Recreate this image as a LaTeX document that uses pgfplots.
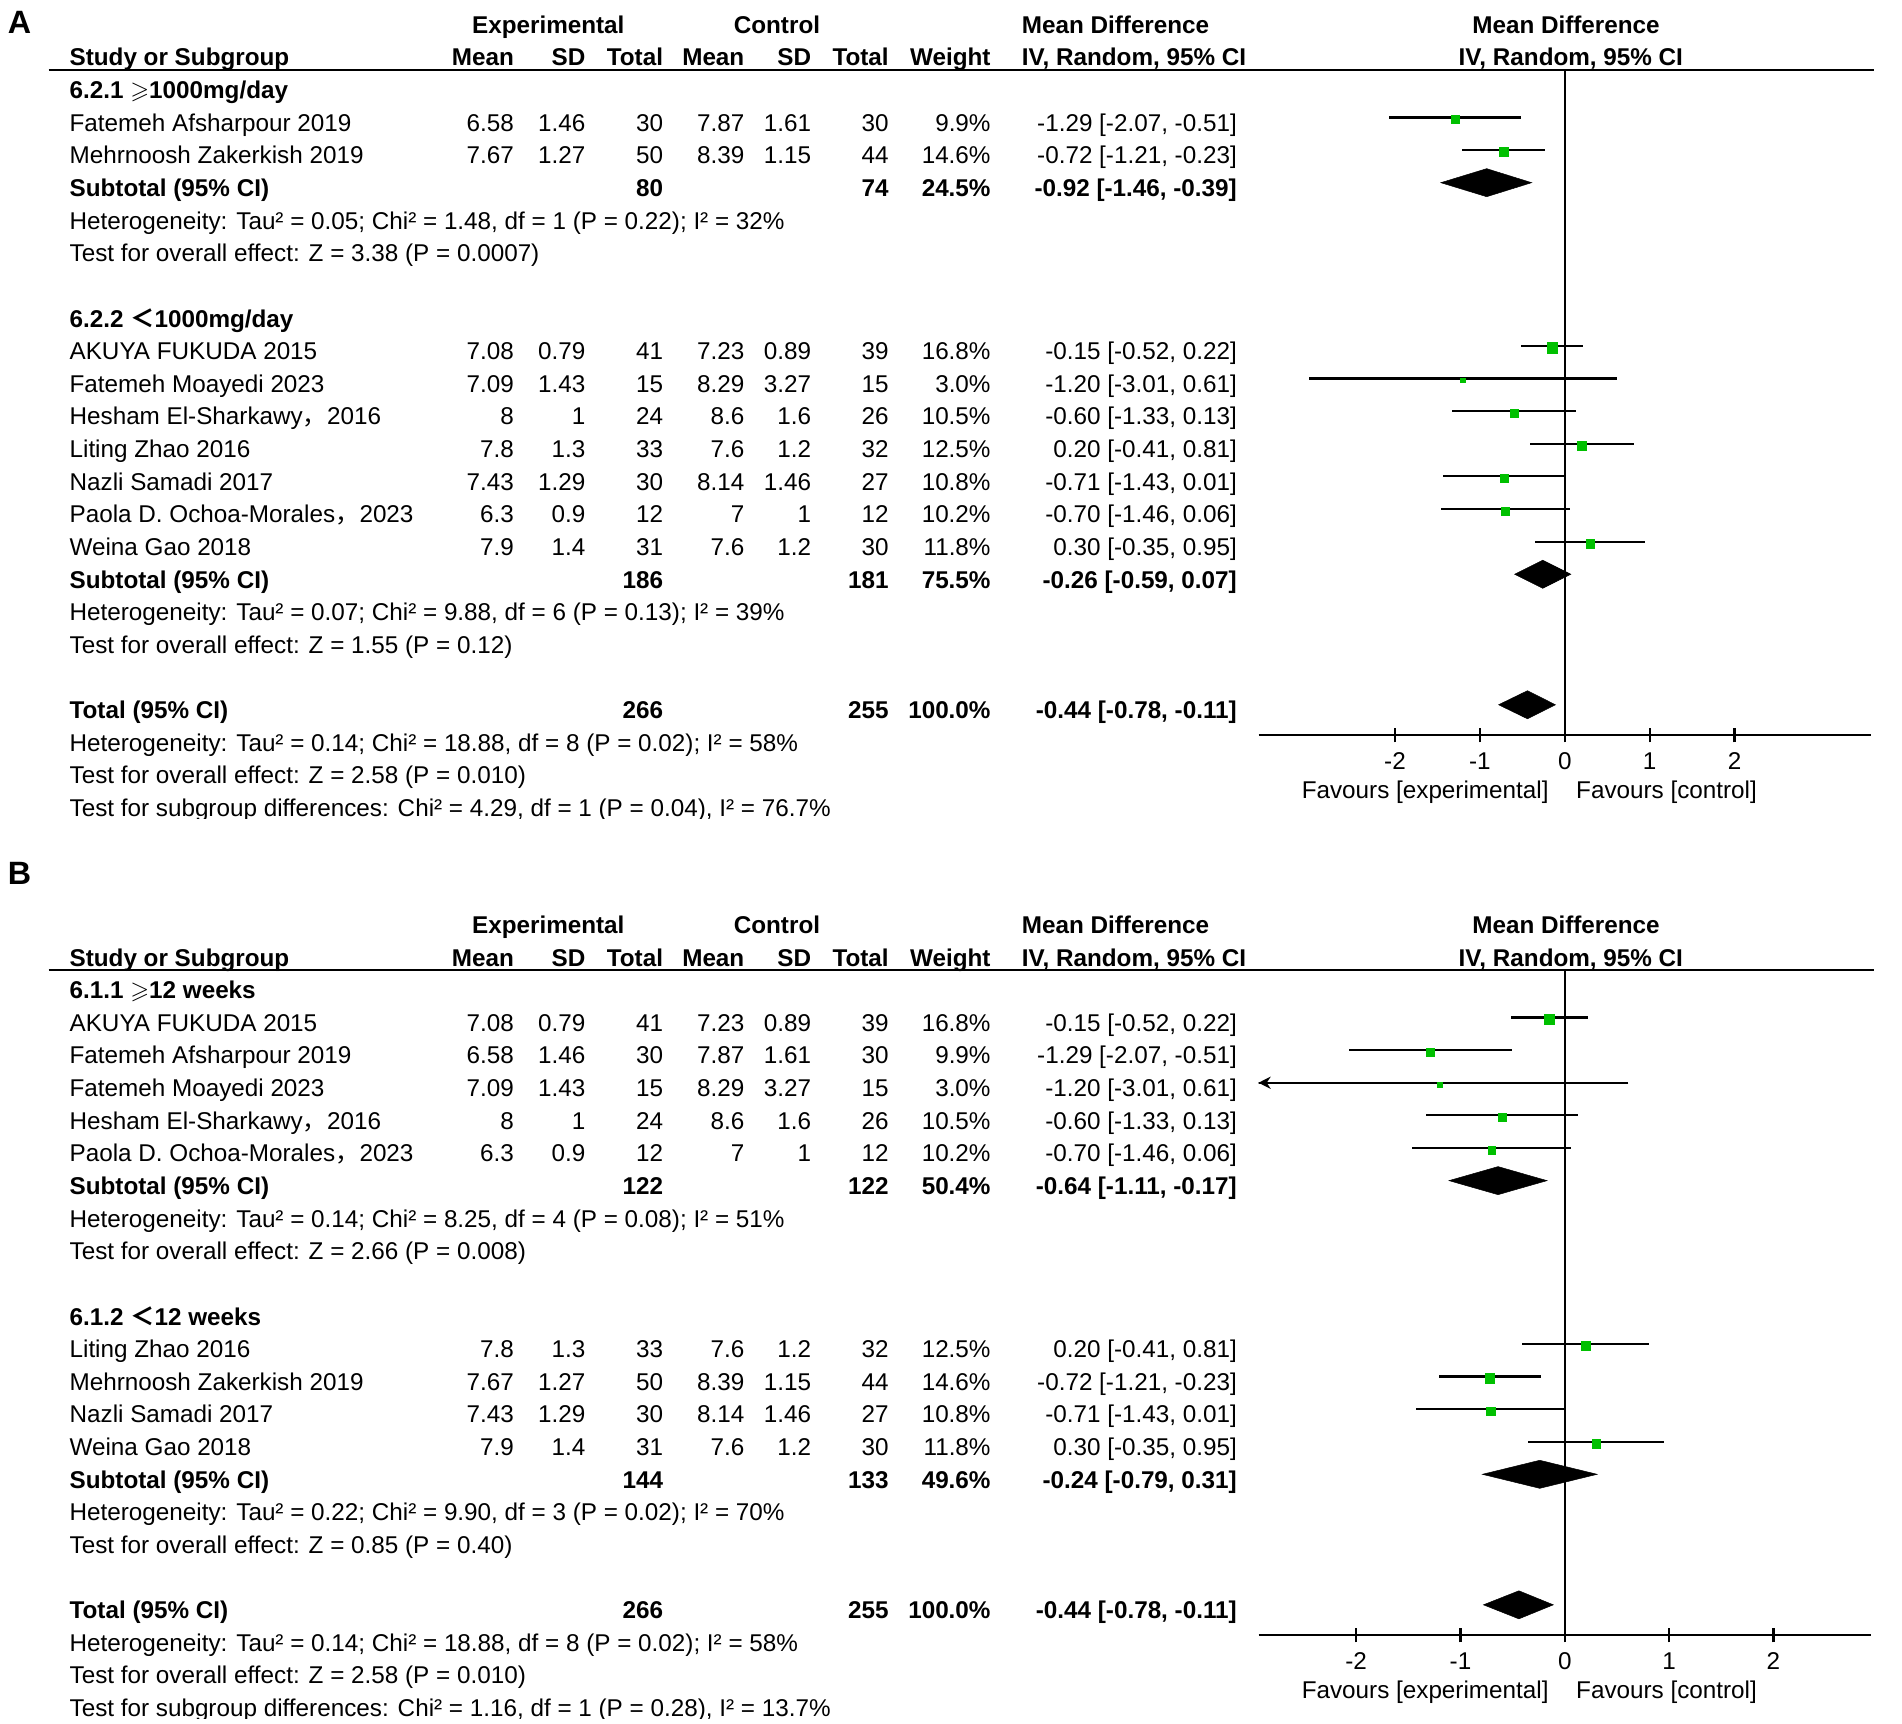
\documentclass[border=0pt]{standalone}
\usepackage{amssymb}
\usepackage{pgfplots}
\pgfplotsset{compat=1.18}
\usepackage{pgfplotstable}
\usepackage{fontspec}
\setmainfont{Liberation Sans}
\newfontfamily\cjk{Noto Sans CJK SC}
\usetikzlibrary{arrows.meta}
\definecolor{mdgreen}{RGB}{0,192,0}

% study rows: y = -row, md, lo, hi, weight, ms = half side of the box (pt)
\pgfplotstableread{
y md lo hi w ms
-3 -1.29 -2.07 -0.51 9.9 1.6
-4 -0.72 -1.21 -0.23 14.6 1.95
-10 -0.15 -0.52 0.22 16.8 2.1
-11 -1.20 -3.01 0.61 3.0 0.95
-12 -0.60 -1.33 0.13 10.5 1.65
-13 0.20 -0.41 0.81 12.5 1.8
-14 -0.71 -1.43 0.01 10.8 1.67
-15 -0.70 -1.46 0.06 10.2 1.63
-16 0.30 -0.35 0.95 11.8 1.75
}\studiesA

\pgfplotstableread{
y md lo hi w ms
-3 -0.15 -0.52 0.22 16.8 2.1
-4 -1.29 -2.07 -0.51 9.9 1.6
-5 -1.20 -3.01 0.61 3.0 0.95
-6 -0.60 -1.33 0.13 10.5 1.65
-7 -0.70 -1.46 0.06 10.2 1.63
-13 0.20 -0.41 0.81 12.5 1.8
-14 -0.72 -1.21 -0.23 14.6 1.95
-15 -0.71 -1.43 0.01 10.8 1.67
-16 0.30 -0.35 0.95 11.8 1.75
}\studiesB

\newcommand{\tl}[3]{\node[anchor=base west,inner sep=0pt] at (#1,{\off+27.5+26.9*#2}) {#3};}
\newcommand{\tr}[3]{\node[anchor=base east,inner sep=0pt] at (#1,{\off+27.5+26.9*#2}) {#3};}
\newcommand{\tc}[3]{\node[anchor=base,inner sep=0pt] at (#1,{\off+27.5+26.9*#2}) {#3};}
\newcommand{\st}[9]{%
  \tl{57}{#1}{#2}\tr{424}{#1}{#3}\tr{483}{#1}{#4}\tr{547}{#1}{#5}%
  \tr{614}{#1}{#6}\tr{669}{#1}{#7}\tr{733}{#1}{#8}\tr{817}{#1}{#9}}
\newcommand{\ci}[2]{\tr{1020}{#1}{#2}}
\newcommand{\header}{%
  \tc{452}{0}{\bfseries Experimental}
  \tc{640.5}{0}{\bfseries Control}
  \tl{842}{0}{\bfseries Mean Difference}
  \tc{1291}{0}{\bfseries Mean Difference}
  \tl{57}{1}{\bfseries Study or Subgroup}
  \tr{424}{1}{\bfseries Mean}\tr{483}{1}{\bfseries SD}\tr{547}{1}{\bfseries Total}
  \tr{614}{1}{\bfseries Mean}\tr{669}{1}{\bfseries SD}\tr{733}{1}{\bfseries Total}
  \tr{817}{1}{\bfseries Weight}
  \tl{842}{1}{\bfseries IV, Random, 95\% CI}
  \tc{1295}{1}{\bfseries IV, Random, 95\% CI}
  \draw[line width=1pt] (40,\off+57.5) -- (1545,\off+57.5);
  \node[anchor=base east,inner sep=0pt] at (1277,\off+658) {Favours [experimental]};
  \node[anchor=base west,inner sep=0pt] at (1299,\off+658) {Favours [control]};
}

\pgfplotsset{forest/.style={
  scale only axis, width=252.5pt, height=274.2pt,
  ymin=-21.93, ymax=-1.543,
  axis x line*=bottom, axis y line=none,
  x axis line style={line width=1pt,-},
  xtick={-2,-1,0,1,2}, xticklabels={-2,-1,0,1,2},
  tick align=center, major tick length=6pt,
  tick style={line width=1pt,black},
  xticklabel style={anchor=base,yshift=-11pt,font=\fontsize{10}{12}\selectfont},
}}

\begin{document}
\begin{tikzpicture}[x=0.5pt,y=-0.5pt,font=\fontsize{10}{12}\selectfont]
\path[use as bounding box] (0,0) rectangle (1568,1421);

%================ Panel A =================
\def\off{0}
\node[anchor=base west,inner sep=0pt,font=\fontsize{13.3}{16}\selectfont\bfseries] at (6,28) {A};
\header
\tl{57}{2}{\bfseries 6.2.1 $\geqslant$1000mg/day}
\st{3}{Fatemeh Afsharpour 2019}{6.58}{1.46}{30}{7.87}{1.61}{30}{9.9\%}\ci{3}{-1.29 [-2.07, -0.51]}
\st{4}{Mehrnoosh Zakerkish 2019}{7.67}{1.27}{50}{8.39}{1.15}{44}{14.6\%}\ci{4}{-0.72 [-1.21, -0.23]}
\tl{57}{5}{\bfseries Subtotal (95\% CI)}\tr{547}{5}{\bfseries 80}\tr{733}{5}{\bfseries 74}\tr{817}{5}{\bfseries 24.5\%}\ci{5}{\bfseries -0.92 [-1.46, -0.39]}
\tl{57}{6}{Heterogeneity: Tau² = 0.05; Chi² = 1.48, df = 1 (P = 0.22); I² = 32\%}
\tl{57}{7}{Test for overall effect: Z = 3.38 (P = 0.0007)}
\tl{57}{9}{\bfseries 6.2.2 {\cjk ＜}1000mg/day}
\st{10}{AKUYA FUKUDA 2015}{7.08}{0.79}{41}{7.23}{0.89}{39}{16.8\%}\ci{10}{-0.15 [-0.52, 0.22]}
\st{11}{Fatemeh Moayedi 2023}{7.09}{1.43}{15}{8.29}{3.27}{15}{3.0\%}\ci{11}{-1.20 [-3.01, 0.61]}
\st{12}{Hesham El-Sharkawy{\cjk ，}2016}{8}{1}{24}{8.6}{1.6}{26}{10.5\%}\ci{12}{-0.60 [-1.33, 0.13]}
\st{13}{Liting Zhao 2016}{7.8}{1.3}{33}{7.6}{1.2}{32}{12.5\%}\ci{13}{0.20 [-0.41, 0.81]}
\st{14}{Nazli Samadi 2017}{7.43}{1.29}{30}{8.14}{1.46}{27}{10.8\%}\ci{14}{-0.71 [-1.43, 0.01]}
\st{15}{Paola D. Ochoa-Morales{\cjk ，}2023}{6.3}{0.9}{12}{7}{1}{12}{10.2\%}\ci{15}{-0.70 [-1.46, 0.06]}
\st{16}{Weina Gao 2018}{7.9}{1.4}{31}{7.6}{1.2}{30}{11.8\%}\ci{16}{0.30 [-0.35, 0.95]}
\tl{57}{17}{\bfseries Subtotal (95\% CI)}\tr{547}{17}{\bfseries 186}\tr{733}{17}{\bfseries 181}\tr{817}{17}{\bfseries 75.5\%}\ci{17}{\bfseries -0.26 [-0.59, 0.07]}
\tl{57}{18}{Heterogeneity: Tau² = 0.07; Chi² = 9.88, df = 6 (P = 0.13); I² = 39\%}
\tl{57}{19}{Test for overall effect: Z = 1.55 (P = 0.12)}
\tl{57}{21}{\bfseries Total (95\% CI)}\tr{547}{21}{\bfseries 266}\tr{733}{21}{\bfseries 255}\tr{817}{21}{\bfseries 100.0\%}\ci{21}{\bfseries -0.44 [-0.78, -0.11]}
\tl{57}{22}{Heterogeneity: Tau² = 0.14; Chi² = 18.88, df = 8 (P = 0.02); I² = 58\%}
\tl{57}{23}{Test for overall effect: Z = 2.58 (P = 0.010)}
\begin{scope}
\clip (0,0) rectangle (1568,675);
\tl{57}{24}{Test for subgroup differences: Chi² = 4.29, df = 1 (P = 0.04), I² = 76.7\%}
\end{scope}

\begin{axis}[forest, at={(518.75pt,-303pt)}, anchor=south west,
  xmin=-3.6071, xmax=3.6071]
\addplot[black, line width=0.8pt] coordinates {(0,-1.543) (0,-21.93)};
\addplot[draw=none, mark=none, forget plot, error bars/.cd, x dir=both, x explicit, error mark=none,
  error bar style={draw=black,line width=0.9pt}]
  table[x=md, y=y, x error plus expr=\thisrow{hi}-\thisrow{md}, x error minus expr=\thisrow{md}-\thisrow{lo}] {\studiesA};
\addplot[scatter, only marks, mark=square*,
  scatter/use mapped color={draw=mdgreen,fill=mdgreen},
  mark options={line width=0.2pt},
  visualization depends on={\thisrow{ms} \as \msz},
  scatter/@pre marker code/.append style={/tikz/mark size=\msz}]
  table[x=md, y expr=\thisrow{y}-0.06] {\studiesA};
\addplot[fill=black, draw=black, line width=0.2pt] coordinates {(-1.46,-5) (-0.92,-4.57) (-0.39,-5) (-0.92,-5.43)} -- cycle;
\addplot[fill=black, draw=black, line width=0.2pt] coordinates {(-0.59,-17) (-0.26,-16.57) (0.07,-17) (-0.26,-17.43)} -- cycle;
\addplot[fill=black, draw=black, line width=0.2pt] coordinates {(-0.78,-21) (-0.44,-20.57) (-0.11,-21) (-0.44,-21.43)} -- cycle;
\end{axis}

%================ Panel B =================
\def\off{742}
\node[anchor=base west,inner sep=0pt,font=\fontsize{13.3}{16}\selectfont\bfseries] at (6,729) {B};
\header
\tl{57}{2}{\bfseries 6.1.1 $\geqslant$12 weeks}
\st{3}{AKUYA FUKUDA 2015}{7.08}{0.79}{41}{7.23}{0.89}{39}{16.8\%}\ci{3}{-0.15 [-0.52, 0.22]}
\st{4}{Fatemeh Afsharpour 2019}{6.58}{1.46}{30}{7.87}{1.61}{30}{9.9\%}\ci{4}{-1.29 [-2.07, -0.51]}
\st{5}{Fatemeh Moayedi 2023}{7.09}{1.43}{15}{8.29}{3.27}{15}{3.0\%}\ci{5}{-1.20 [-3.01, 0.61]}
\st{6}{Hesham El-Sharkawy{\cjk ，}2016}{8}{1}{24}{8.6}{1.6}{26}{10.5\%}\ci{6}{-0.60 [-1.33, 0.13]}
\st{7}{Paola D. Ochoa-Morales{\cjk ，}2023}{6.3}{0.9}{12}{7}{1}{12}{10.2\%}\ci{7}{-0.70 [-1.46, 0.06]}
\tl{57}{8}{\bfseries Subtotal (95\% CI)}\tr{547}{8}{\bfseries 122}\tr{733}{8}{\bfseries 122}\tr{817}{8}{\bfseries 50.4\%}\ci{8}{\bfseries -0.64 [-1.11, -0.17]}
\tl{57}{9}{Heterogeneity: Tau² = 0.14; Chi² = 8.25, df = 4 (P = 0.08); I² = 51\%}
\tl{57}{10}{Test for overall effect: Z = 2.66 (P = 0.008)}
\tl{57}{12}{\bfseries 6.1.2 {\cjk ＜}12 weeks}
\st{13}{Liting Zhao 2016}{7.8}{1.3}{33}{7.6}{1.2}{32}{12.5\%}\ci{13}{0.20 [-0.41, 0.81]}
\st{14}{Mehrnoosh Zakerkish 2019}{7.67}{1.27}{50}{8.39}{1.15}{44}{14.6\%}\ci{14}{-0.72 [-1.21, -0.23]}
\st{15}{Nazli Samadi 2017}{7.43}{1.29}{30}{8.14}{1.46}{27}{10.8\%}\ci{15}{-0.71 [-1.43, 0.01]}
\st{16}{Weina Gao 2018}{7.9}{1.4}{31}{7.6}{1.2}{30}{11.8\%}\ci{16}{0.30 [-0.35, 0.95]}
\tl{57}{17}{\bfseries Subtotal (95\% CI)}\tr{547}{17}{\bfseries 144}\tr{733}{17}{\bfseries 133}\tr{817}{17}{\bfseries 49.6\%}\ci{17}{\bfseries -0.24 [-0.79, 0.31]}
\tl{57}{18}{Heterogeneity: Tau² = 0.22; Chi² = 9.90, df = 3 (P = 0.02); I² = 70\%}
\tl{57}{19}{Test for overall effect: Z = 0.85 (P = 0.40)}
\tl{57}{21}{\bfseries Total (95\% CI)}\tr{547}{21}{\bfseries 266}\tr{733}{21}{\bfseries 255}\tr{817}{21}{\bfseries 100.0\%}\ci{21}{\bfseries -0.44 [-0.78, -0.11]}
\tl{57}{22}{Heterogeneity: Tau² = 0.14; Chi² = 18.88, df = 8 (P = 0.02); I² = 58\%}
\tl{57}{23}{Test for overall effect: Z = 2.58 (P = 0.010)}
\begin{scope}
\clip (0,0) rectangle (1568,1417);
\tl{57}{24}{Test for subgroup differences: Chi² = 1.16, df = 1 (P = 0.28), I² = 13.7\%}
\end{scope}

\begin{axis}[forest, at={(518.75pt,-674pt)}, anchor=south west,
  xmin=-2.936, xmax=2.936]
\addplot[black, line width=0.8pt] coordinates {(0,-1.543) (0,-21.93)};
\addplot[draw=none, mark=none, forget plot, error bars/.cd, x dir=both, x explicit, error mark=none,
  error bar style={draw=black,line width=0.9pt}]
  table[x=md, y=y, x error plus expr=\thisrow{hi}-\thisrow{md}, x error minus expr=\thisrow{md}-\thisrow{lo}] {\studiesB};
\addplot[black, line width=0.9pt, -{Stealth[length=5pt,width=5pt]}] coordinates {(0.61,-5) (-2.936,-5)};
\addplot[scatter, only marks, mark=square*,
  scatter/use mapped color={draw=mdgreen,fill=mdgreen},
  mark options={line width=0.2pt},
  visualization depends on={\thisrow{ms} \as \msz},
  scatter/@pre marker code/.append style={/tikz/mark size=\msz}]
  table[x=md, y expr=\thisrow{y}-0.06] {\studiesB};
\addplot[fill=black, draw=black, line width=0.2pt] coordinates {(-1.11,-8) (-0.64,-7.57) (-0.17,-8) (-0.64,-8.43)} -- cycle;
\addplot[fill=black, draw=black, line width=0.2pt] coordinates {(-0.79,-17) (-0.24,-16.57) (0.31,-17) (-0.24,-17.43)} -- cycle;
\addplot[fill=black, draw=black, line width=0.2pt] coordinates {(-0.78,-21) (-0.44,-20.57) (-0.11,-21) (-0.44,-21.43)} -- cycle;
\end{axis}
\end{tikzpicture}
\end{document}
